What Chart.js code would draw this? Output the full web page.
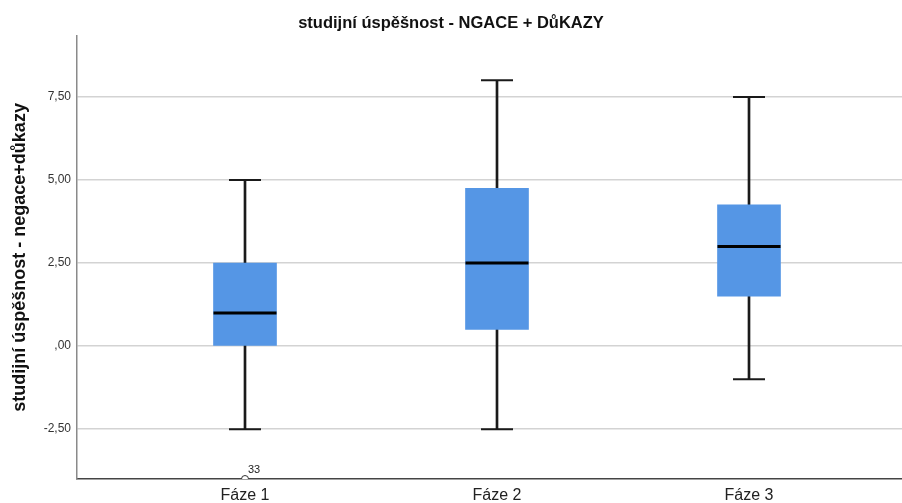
<!DOCTYPE html>
<html lang="cs">
<head>
<meta charset="utf-8">
<script src="https://cdn.jsdelivr.net/npm/chart.js@4.4.1/dist/chart.umd.min.js"></script>
<style>
  html, body { margin: 0; padding: 0; background: #ffffff; }
  #wrap { width: 902px; height: 503px; }
</style>
</head>
<body>
<div id="wrap"><canvas id="c"></canvas></div>
<script>
// Skupiny (fáze) a pětičíselné shrnutí pro každou z nich
const categories = ['Fáze 1', 'Fáze 2', 'Fáze 3'];
const whiskerLow = [-2.5, -2.5, -1.0];
const quartile1  = [0.0, 0.5, 1.5];
const medians    = [1.0, 2.5, 3.0];
const quartile3  = [2.5, 4.75, 4.25];
const whiskerHigh = [5.0, 8.0, 7.5];

// Odlehlá pozorování: skupina, hodnota, číslo případu
const outlierGroup = [1];
const outlierValue = [-4.0];
const outlierIds   = ['33'];

// Popisky osy y
const yTickValues = [-2.5, 0, 2.5, 5, 7.5];
const yTickLabels = ['-2,50', ',00', '2,50', '5,00', '7,50'];

const FONT = "'Liberation Sans', Arial, sans-serif";
const pos = categories.map((_, i) => i + 1);

const boxData = pos.map((x, i) => ({ x, y: [quartile1[i], quartile3[i]] }));
const whiskerData = pos.map((x, i) => ({ x, y: [whiskerLow[i], whiskerHigh[i]] }));
const capData = [];
pos.forEach((x, i) => {
  capData.push({ x, y: whiskerLow[i] });
  capData.push({ x, y: whiskerHigh[i] });
});
const medianData = pos.map((x, i) => ({ x, y: medians[i] }));
const outlierData = outlierGroup.map((g, i) => ({ x: g, y: outlierValue[i] }));

// Čísla případů vedle odlehlých bodů
const caseLabels = {
  id: 'caseLabels',
  afterDatasetsDraw(chart) {
    const { ctx, scales } = chart;
    ctx.save();
    ctx.font = '11px ' + FONT;
    ctx.fillStyle = '#222222';
    ctx.textAlign = 'left';
    ctx.textBaseline = 'bottom';
    outlierData.forEach((p, i) => {
      const px = scales.x.getPixelForValue(p.x);
      const py = scales.y.getPixelForValue(p.y);
      ctx.fillText(outlierIds[i], px + 3, py - 4);
    });
    ctx.restore();
  }
};

new Chart(document.getElementById('c'), {
  type: 'bar',
  data: {
    datasets: [
      {
        type: 'scatter',
        label: 'outliers',
        data: outlierData,
        pointStyle: 'circle',
        pointRadius: 3.5,
        pointBackgroundColor: '#ffffff',
        pointBorderColor: '#333333',
        pointBorderWidth: 1,
        order: 0
      },
      {
        type: 'scatter',
        label: 'median',
        data: medianData,
        pointStyle: 'line',
        pointRadius: 31.5,
        pointBorderColor: '#000000',
        pointBorderWidth: 3,
        order: 1
      },
      {
        label: 'box',
        data: boxData,
        backgroundColor: '#5596e5',
        borderWidth: 0,
        barThickness: 63,
        grouped: false,
        order: 2
      },
      {
        type: 'scatter',
        label: 'caps',
        data: capData,
        pointStyle: 'line',
        pointRadius: 16,
        pointBorderColor: '#1a1a1a',
        pointBorderWidth: 2,
        order: 3
      },
      {
        label: 'whiskers',
        data: whiskerData,
        backgroundColor: '#1a1a1a',
        borderWidth: 0,
        barThickness: 2,
        grouped: false,
        order: 4
      }
    ]
  },
  options: {
    responsive: true,
    maintainAspectRatio: false,
    animation: false,
    layout: { padding: 0, autoPadding: false },
    plugins: {
      legend: { display: false },
      tooltip: { enabled: false },
      title: {
        display: true,
        text: 'studijní úspěšnost - NGACE + DůKAZY',
        color: '#111111',
        font: { family: FONT, size: 16.5, weight: 'bold' },
        padding: { top: 14, bottom: 2 }
      }
    },
    scales: {
      x: {
        type: 'linear',
        offset: false,
        min: 1 - 168 / 252,
        max: 1 - 168 / 252 + 825 / 252,
        afterBuildTicks(scale) { scale.ticks = pos.map(v => ({ value: v })); },
        afterFit(scale) {
          scale.height = 24;
          scale.paddingLeft = 0;
          scale.paddingRight = 0;
        },
        ticks: {
          padding: 7,
          color: '#222222',
          font: { family: FONT, size: 16 },
          maxRotation: 0,
          autoSkip: false,
          callback: v => categories[v - 1]
        },
        grid: { display: false, drawTicks: false },
        border: { display: true, color: '#444444', width: 1.5 }
      },
      y: {
        type: 'linear',
        min: -4.0,
        max: 9.34,
        afterBuildTicks(scale) { scale.ticks = yTickValues.map(v => ({ value: v })); },
        afterFit(scale) {
          scale.width = 77;
          scale.paddingTop = 0;
          scale.paddingBottom = 0;
        },
        ticks: {
          padding: 6,
          color: '#333333',
          font: { family: FONT, size: 12 },
          callback: (v) => yTickLabels[yTickValues.indexOf(v)]
        },
        grid: { color: '#d3d3d3', lineWidth: 1.5, drawTicks: false },
        border: { display: true, color: '#8a8a8a', width: 1.5 },
        title: {
          display: true,
          text: 'studijní úspěšnost - negace+důkazy',
          color: '#111111',
          font: { family: FONT, size: 18, weight: 'bold' },
          padding: { top: 9, bottom: 0 }
        }
      }
    }
  },
  plugins: [caseLabels]
});
</script>
</body>
</html>
